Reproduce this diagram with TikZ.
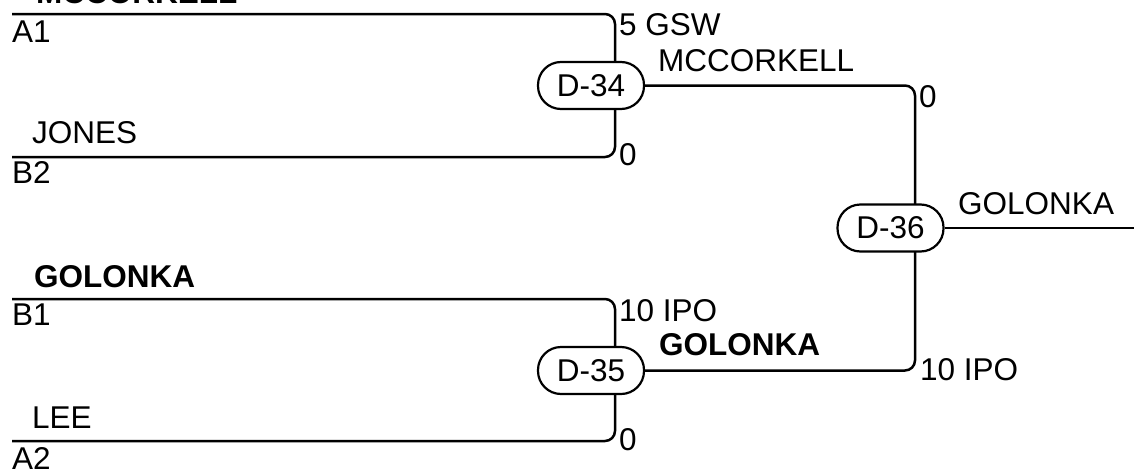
\documentclass[tikz,border=0pt]{standalone}
\usepackage{fontspec}
\setmainfont{Liberation Sans}
\pgfdeclarelayer{background}
\pgfsetlayers{background,main}
\begin{document}
\begin{tikzpicture}[x=1pt,y=-1pt,
  wire/.style={line width=2.5pt, rounded corners=10pt},
  match/.style={draw, line width=2.2pt, fill=white, rounded corners=23pt,
    minimum width=106pt, minimum height=47pt, inner sep=0pt,
    font=\fontsize{31.5}{36}\selectfont},
  lbl/.style={anchor=base west, inner sep=0pt, font=\fontsize{31.5}{36}\selectfont},
  blbl/.style={lbl, font=\fontsize{31.5}{36}\selectfont\bfseries}]
\useasboundingbox (0,0) rectangle (1134,471);
% slot ends
\coordinate (a1) at (12,14);
\coordinate (b2) at (12,157);
\coordinate (b1) at (12,299);
\coordinate (a2) at (12,441);
\coordinate (j34) at (615,85.5);
\coordinate (j35) at (615,370);
\coordinate (j36) at (915,228);
\coordinate (out) at (1134,228);
% match nodes
\node[match] (d34) at (591,85.5) {D-34};
\node[match] (d35) at (591,370.5) {D-35};
\node[match] (d36) at (890.5,228) {D-36};
% connectors
\begin{pgfonlayer}{background}
\draw[wire] (a1) -| (j34) |- (b2);
\draw[wire] (b1) -| (j35) |- (a2);
\draw[wire] (d34.east) -| (j36) |- (d35.east);
\draw[wire] (d36.east) -- (out);
\end{pgfonlayer}
% labels
\node[blbl] (t1) at (36,3) {MCCORKELL};
\node[lbl] (t2) at (12,42) {A1};
\node[lbl] (t3) at (32,143) {JONES};
\node[lbl] (t4) at (12,183) {B2};
\node[blbl] (t5) at (34,287) {GOLONKA};
\node[lbl] (t6) at (12,325) {B1};
\node[lbl] (t7) at (32,428) {LEE};
\node[lbl] (t8) at (12,469) {A2};
\node[lbl] (s1) at (619,35) {5 GSW};
\node[lbl] (w1) at (658,71) {MCCORKELL};
\node[lbl] (s2) at (619,165) {0};
\node[lbl] (s3) at (619,321) {10 IPO};
\node[blbl] (w2) at (659,355) {GOLONKA};
\node[lbl] (s4) at (619,450) {0};
\node[lbl] (s5) at (919,107) {0};
\node[lbl] (w3) at (958,214) {GOLONKA};
\node[lbl] (s6) at (920,380) {10 IPO};
\end{tikzpicture}
\end{document}
